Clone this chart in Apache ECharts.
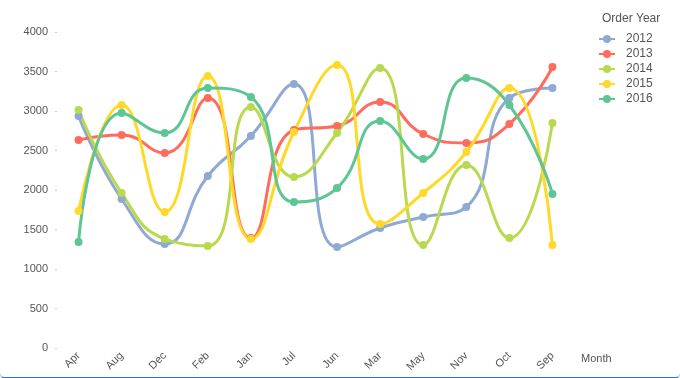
<!DOCTYPE html>
<html>
<head>
<meta charset="utf-8">
<script src="https://cdn.jsdelivr.net/npm/echarts@6/dist/echarts.min.js"></script>
<style>
  html, body { margin: 0; padding: 0; background: #fff; }
  #wrap { position: relative; width: 680px; height: 378px; overflow: hidden; }
  #main { width: 680px; height: 378px; }
  #edge { position: absolute; left: 0; right: 0; bottom: 0; height: 4px;
          border-bottom: 1px solid #2a72c4; border-left: 1px solid #b5d0ee;
          border-right: 1px solid #b5d0ee; border-radius: 0 0 4px 4px; box-sizing: border-box; }
</style>
</head>
<body>
<div id="wrap">
  <div id="main"></div>
  <div id="edge"></div>
</div>
<script>
// month categories in the order the chart shows them
const months = ['Apr', 'Aug', 'Dec', 'Feb', 'Jan', 'Jul', 'Jun', 'Mar', 'May', 'Nov', 'Oct', 'Sep'];
const years = ['2012', '2013', '2014', '2015', '2016'];

const y2012 = [2937, 1886, 1316, 2177, 2684, 3342, 1278, 1519, 1658, 1785, 3165, 3291];
const y2013 = [2633, 2696, 2468, 3165, 1392, 2759, 2810, 3114, 2709, 2595, 2835, 3557];
const y2014 = [3013, 1962, 1380, 1291, 3051, 2165, 2722, 3544, 1304, 2316, 1392, 2848];
const y2015 = [1734, 3076, 1722, 3443, 1380, 2734, 3582, 1570, 1962, 2481, 3291, 1304];
const y2016 = [1342, 2975, 2722, 3291, 3177, 1848, 2025, 2873, 2392, 3418, 3076, 1949];

const colors = ['#8eaad4', '#ff6c5e', '#b9d94e', '#ffd928', '#5ec595'];

let chart = echarts.init(document.getElementById('main'));

function mkSeries(name, data) {
    return {
        name: name,
        type: 'line',
        data: data,
        smooth: 0.5,
        symbol: 'circle',
        symbolSize: 8,
        lineStyle: { width: 3 },
        emphasis: { disabled: true }
    };
}

const txt = { fontWeight: 'normal', color: '#555', fontFamily: 'Liberation Sans' };

let option = {
    animation: false,
    color: colors,
    title: [
        {
            text: 'Order Year',
            left: 597,
            top: 8,
            textStyle: Object.assign({ fontSize: 12 }, txt)
        },
        {
            // x axis name, sits beside the last label like the original
            text: 'Month',
            left: 576,
            top: 348,
            textStyle: Object.assign({ fontSize: 11 }, txt)
        }
    ],
    legend: {
        orient: 'vertical',
        left: 593,
        top: 28,
        itemWidth: 16,
        itemHeight: 10,
        itemGap: 3,
        textStyle: { fontSize: 12, color: '#555', fontFamily: 'Liberation Sans', padding: [0, 0, 0, 6] },
        data: years
    },
    grid: {
        left: 57,
        right: 106,
        top: 32,
        bottom: 30
    },
    xAxis: {
        type: 'category',
        data: months,
        boundaryGap: true,
        axisLine: { show: false },
        axisTick: { show: false },
        axisLabel: { rotate: 45, fontSize: 11, color: '#555', margin: 6, fontFamily: 'Liberation Sans' }
    },
    yAxis: {
        type: 'value',
        min: 0,
        max: 4000,
        interval: 500,
        axisLine: { show: false },
        axisTick: { show: true, length: 2, lineStyle: { color: '#ccc' } },
        splitLine: { show: false },
        axisLabel: {
            fontSize: 11, color: '#555', margin: 9, fontFamily: 'Liberation Sans',
            formatter: function (v) { return String(v); }
        }
    },
    series: [
        mkSeries('2012', y2012),
        mkSeries('2013', y2013),
        mkSeries('2014', y2014),
        mkSeries('2015', y2015),
        mkSeries('2016', y2016)
    ]
};
chart.setOption(option);
</script>
</body>
</html>
